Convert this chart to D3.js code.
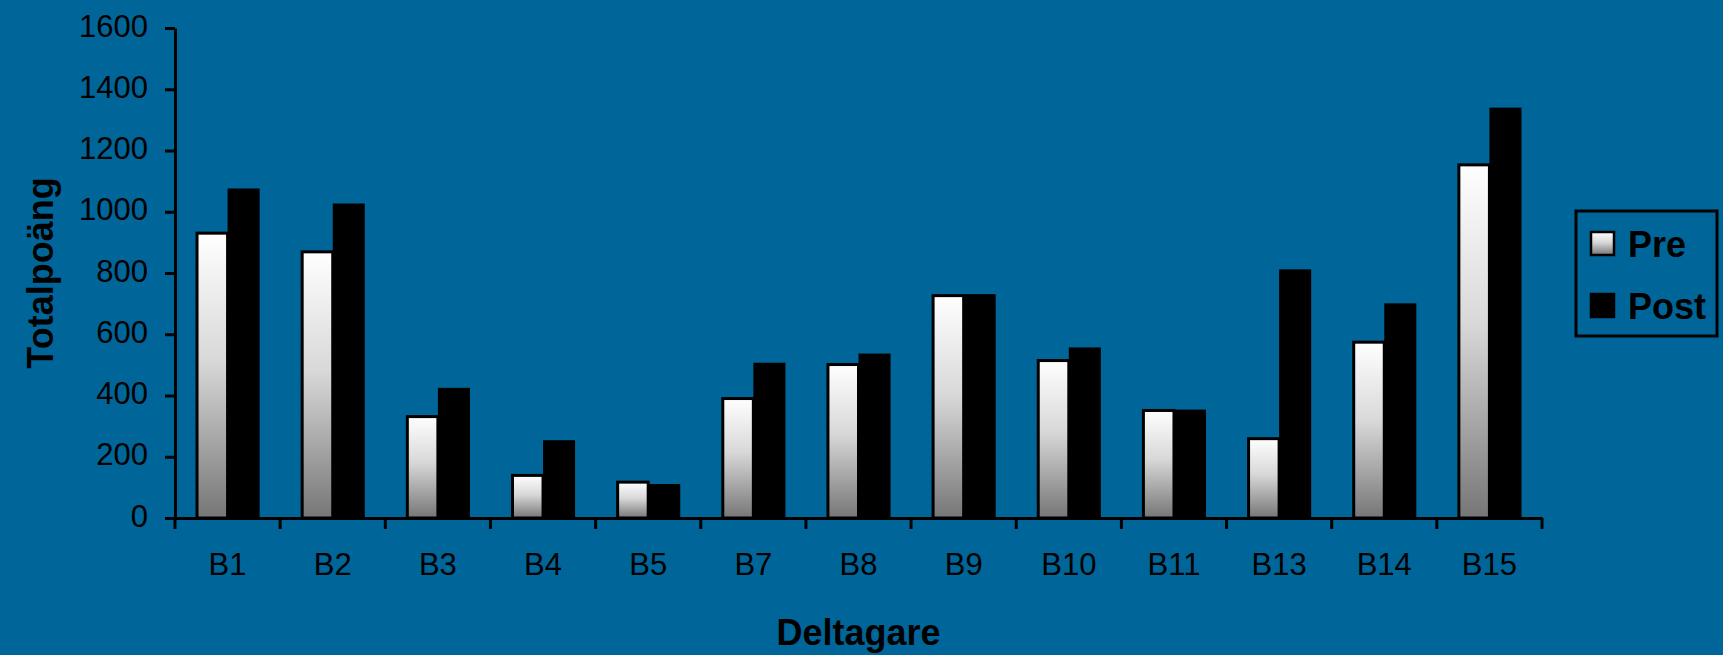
<!DOCTYPE html>
<html>
<head>
  <meta charset="utf-8">
  <title>Totalpoäng per deltagare</title>
  <style>
    html, body { margin: 0; padding: 0; background: #006699; }
    svg { display: block; font-family: Arial, "Liberation Sans", Helvetica, sans-serif; }
  </style>
  <script src="https://cdn.jsdelivr.net/npm/d3@7"></script>
</head>
<body>
  <script>
    // data
    var categories = ["B1", "B2", "B3", "B4", "B5", "B7", "B8", "B9", "B10", "B11", "B13", "B14", "B15"];
    var seriesNames = ["Pre", "Post"];
    var preValues  = [935, 874, 336, 144, 122, 395, 506, 731, 519, 356, 264, 579, 1158];
    var postValues = [1076, 1027, 425, 254, 111, 507, 537, 731, 557, 354, 812, 701, 1340];
    var yTicks = [0, 200, 400, 600, 800, 1000, 1200, 1400, 1600];

    var width = 1723, height = 655;
    var margin = {top: 28, right: 181, bottom: 137, left: 175};
    var plotRight = width - margin.right;
    var plotBottom = height - margin.bottom;

    var svg = d3.select("body").append("svg")
      .attr("width", width)
      .attr("height", height);

    svg.append("rect")
      .attr("width", width).attr("height", height)
      .attr("fill", "#006699");

    // gradient for the Pre bars
    var grad = svg.append("defs").append("linearGradient")
      .attr("id", "preGrad")
      .attr("x1", 0).attr("y1", 0).attr("x2", 0).attr("y2", 1);
    grad.append("stop").attr("offset", "0%").attr("stop-color", "#ffffff");
    grad.append("stop").attr("offset", "45%").attr("stop-color", "#d8d8d8");
    grad.append("stop").attr("offset", "100%").attr("stop-color", "#767676");

    var x = d3.scaleBand()
      .domain(categories)
      .range([margin.left, plotRight])
      .paddingInner(0).paddingOuter(0);

    var xInner = d3.scaleBand()
      .domain(seriesNames)
      .range([0, x.bandwidth()])
      .paddingInner(0).paddingOuter(0.64);

    var y = d3.scaleLinear()
      .domain([0, 1600])
      .range([plotBottom, margin.top]);

    var rows = categories.map(function (c, i) {
      return {cat: c, Pre: preValues[i], Post: postValues[i]};
    });

    // bars
    var groups = svg.append("g")
      .selectAll("g")
      .data(rows)
      .enter().append("g")
        .attr("transform", d => "translate(" + x(d.cat) + ",0)");

    groups.append("rect")
      .attr("x", xInner("Pre") + 1.5)
      .attr("y", d => y(d.Pre) + 1.5)
      .attr("width", xInner.bandwidth() - 1.5)
      .attr("height", d => plotBottom - y(d.Pre) - 1.5)
      .attr("fill", "url(#preGrad)")
      .attr("stroke", "#000")
      .attr("stroke-width", 3);

    groups.append("rect")
      .attr("x", xInner("Post"))
      .attr("y", d => y(d.Post))
      .attr("width", xInner.bandwidth())
      .attr("height", d => plotBottom - y(d.Post))
      .attr("fill", "#000");

    // y axis
    var yAxis = svg.append("g")
      .attr("transform", "translate(" + margin.left + ",0)")
      .call(d3.axisLeft(y).tickValues(yTicks).tickFormat(d3.format("d"))
        .tickSize(10).tickSizeOuter(0).tickPadding(17));
    yAxis.selectAll("text").attr("font-size", 31).attr("fill", "#000").attr("font-family", null).attr("dy", "0.26em");
    yAxis.selectAll("line").attr("stroke", "#000").attr("stroke-width", 3);
    yAxis.select(".domain").attr("stroke", "#000").attr("stroke-width", 3);

    // x axis labels (centered under bands)
    var xAxis = svg.append("g")
      .attr("transform", "translate(0," + plotBottom + ")")
      .call(d3.axisBottom(x).tickSize(0).tickSizeOuter(0).tickPadding(35));
    xAxis.selectAll("text").attr("font-size", 31).attr("fill", "#000").attr("font-family", null);
    xAxis.select(".domain").attr("stroke", "#000").attr("stroke-width", 3);

    // x ticks at band edges
    var edges = categories.map(c => x(c)).concat([x.range()[1]]);
    xAxis.selectAll("line.edge")
      .data(edges)
      .enter().append("line")
        .attr("class", "edge")
        .attr("x1", d => d).attr("x2", d => d)
        .attr("y1", 0).attr("y2", 11)
        .attr("stroke", "#000").attr("stroke-width", 3);

    // axis titles
    svg.append("text")
      .attr("x", (margin.left + plotRight) / 2)
      .attr("y", 645)
      .attr("text-anchor", "middle")
      .attr("font-size", 36)
      .attr("font-weight", "bold")
      .text("Deltagare");

    svg.append("text")
      .attr("transform", "translate(53," + (margin.top + plotBottom) / 2 + ") rotate(-90)")
      .attr("text-anchor", "middle")
      .attr("font-size", 36)
      .attr("font-weight", "bold")
      .text("Totalpoäng");

    // legend
    var legend = svg.append("g").attr("transform", "translate(1576,211)");
    legend.append("rect")
      .attr("width", 141).attr("height", 125)
      .attr("fill", "none")
      .attr("stroke", "#000").attr("stroke-width", 3);

    var items = legend.selectAll("g.item")
      .data(seriesNames)
      .enter().append("g")
        .attr("class", "item")
        .attr("transform", (d, i) => "translate(0," + (i * 62) + ")");

    items.append("rect")
      .attr("x", 15).attr("y", 21)
      .attr("width", 23).attr("height", 23)
      .attr("fill", d => d === "Pre" ? "url(#preGrad)" : "#000")
      .attr("stroke", "#000").attr("stroke-width", 2.5);

    items.append("text")
      .attr("x", 52).attr("y", 46)
      .attr("font-size", 36)
      .attr("font-weight", "bold")
      .text(d => d);
  </script>
</body>
</html>
